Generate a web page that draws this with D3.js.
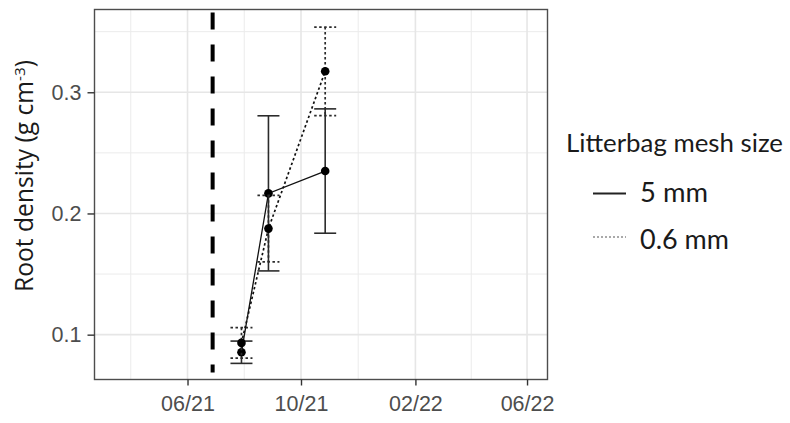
<!DOCTYPE html>
<html>
<head>
<meta charset="utf-8">
<script src="https://cdn.jsdelivr.net/npm/d3@7"></script>
<style>
  html, body { margin: 0; padding: 0; background: #fff; }
  svg { display: block; }
</style>
</head>
<body>
<svg id="chart" width="790" height="423"></svg>
<script>
// ---- data ----
const sampleDates = ["2021-07-29", "2021-08-27", "2021-10-27"];
const mesh5Mean  = [0.0855, 0.2166, 0.2350];
const mesh5Err   = [0.0092, 0.0640, 0.0513];
const mesh06Mean = [0.0932, 0.1875, 0.3173];
const mesh06Err  = [0.0126, 0.0275, 0.0365];
const eventDate  = "2021-06-28";
const xTickLabels = ["06/21", "10/21", "02/22", "06/22"];
const xTickDates  = ["2021-06-01", "2021-10-01", "2022-02-01", "2022-06-01"];
const yTicks = [0.1, 0.2, 0.3];
const yMinor = [0.15, 0.25, 0.35];
const legendTitle = "Litterbag mesh size";
const seriesNames = ["5 mm", "0.6 mm"];
const xDomain = ["2021-02-21", "2022-06-23"];
const yDomain = [0.063, 0.3683];

const parse = d3.timeParse("%Y-%m-%d");
const svg = d3.select("#chart");

const panel = { left: 94.5, right: 547.5, top: 9.5, bottom: 379.5 };

const x = d3.scaleTime().domain(xDomain.map(parse)).range([panel.left, panel.right]);
const y = d3.scaleLinear().domain(yDomain).range([panel.bottom, panel.top]);

// grid
const xMajor = xTickDates.map(parse);
const xMinor = [];
xMinor.push(new Date(xMajor[0].getTime() - (xMajor[1] - xMajor[0]) / 2));
for (let i = 0; i < xMajor.length - 1; i++) {
  xMinor.push(new Date((xMajor[i].getTime() + xMajor[i + 1].getTime()) / 2));
}
const g = svg.append("g");
g.selectAll(".vminor").data(xMinor).join("line")
  .attr("x1", d => x(d)).attr("x2", d => x(d))
  .attr("y1", panel.top).attr("y2", panel.bottom)
  .attr("stroke", "#ebebeb").attr("stroke-width", 1);
g.selectAll(".hminor").data(yMinor).join("line")
  .attr("y1", d => y(d)).attr("y2", d => y(d))
  .attr("x1", panel.left).attr("x2", panel.right)
  .attr("stroke", "#ebebeb").attr("stroke-width", 1);
g.selectAll(".vmajor").data(xMajor).join("line")
  .attr("x1", d => x(d)).attr("x2", d => x(d))
  .attr("y1", panel.top).attr("y2", panel.bottom)
  .attr("stroke", "#e6e6e6").attr("stroke-width", 1.6);
g.selectAll(".hmajor").data(yTicks).join("line")
  .attr("y1", d => y(d)).attr("y2", d => y(d))
  .attr("x1", panel.left).attr("x2", panel.right)
  .attr("stroke", "#e6e6e6").attr("stroke-width", 1.6);

// vertical dashed event line
svg.append("line")
  .attr("x1", x(parse(eventDate))).attr("x2", x(parse(eventDate)))
  .attr("y1", panel.top + 3).attr("y2", panel.bottom - 7)
  .attr("stroke", "#000").attr("stroke-width", 4)
  .attr("stroke-dasharray", "17,15");

// series
const series = [
  { name: seriesNames[0], mean: mesh5Mean, err: mesh5Err, dash: null, width: 1.6, lw: 1.3 },
  { name: seriesNames[1], mean: mesh06Mean, err: mesh06Err, dash: "2.5,2.5", width: 1.7, lw: 1.7 }
];
const capHalf = 11;
series.forEach(s => {
  const pts = sampleDates.map((d, i) => ({ date: parse(d), m: s.mean[i], e: s.err[i] }));
  const sg = svg.append("g");
  // error bars
  pts.forEach(p => {
    const eb = sg.append("g").attr("stroke", "#2b2b2b").attr("stroke-width", s.width).attr("fill", "none");
    if (s.dash) eb.attr("stroke-dasharray", s.dash);
    eb.append("line").attr("x1", x(p.date)).attr("x2", x(p.date)).attr("y1", y(p.m + p.e)).attr("y2", y(p.m - p.e));
    eb.append("line").attr("x1", x(p.date) - capHalf).attr("x2", x(p.date) + capHalf).attr("y1", y(p.m + p.e)).attr("y2", y(p.m + p.e));
    eb.append("line").attr("x1", x(p.date) - capHalf).attr("x2", x(p.date) + capHalf).attr("y1", y(p.m - p.e)).attr("y2", y(p.m - p.e));
  });
  const line = d3.line().x(p => x(p.date)).y(p => y(p.m));
  const path = sg.append("path").datum(pts).attr("d", line)
    .attr("fill", "none").attr("stroke", "#111").attr("stroke-width", s.lw);
  if (s.dash) path.attr("stroke-dasharray", s.dash);
  sg.selectAll("circle").data(pts).join("circle")
    .attr("cx", p => x(p.date)).attr("cy", p => y(p.m)).attr("r", 4.3).attr("fill", "#000");
});

// panel border
svg.append("rect")
  .attr("x", panel.left).attr("y", panel.top)
  .attr("width", panel.right - panel.left).attr("height", panel.bottom - panel.top)
  .attr("fill", "none").attr("stroke", "#4d4d4d").attr("stroke-width", 1.4);

// axes
const xAxis = d3.axisBottom(x).tickValues(xMajor)
  .tickFormat((d, i) => xTickLabels[i]).tickSizeOuter(0).tickSize(6).tickPadding(10);
const xg = svg.append("g").attr("transform", `translate(0,${panel.bottom})`).call(xAxis);
xg.select(".domain").remove();
xg.selectAll(".tick line").attr("stroke", "#333").attr("stroke-width", 1.4);
xg.selectAll(".tick text").attr("fill", "#4d4d4d")
  .style("font-family", "'Liberation Sans', Arial, sans-serif").style("font-size", "21.5px");

const yAxis = d3.axisLeft(y).tickValues(yTicks).tickFormat(d3.format(".1f"))
  .tickSizeOuter(0).tickSize(7).tickPadding(6);
const yg = svg.append("g").attr("transform", `translate(${panel.left},0)`).call(yAxis);
yg.select(".domain").remove();
yg.selectAll(".tick line").attr("stroke", "#333").attr("stroke-width", 1.4);
yg.selectAll(".tick text").attr("fill", "#4d4d4d")
  .style("font-family", "'Liberation Sans', Arial, sans-serif").style("font-size", "21.5px");

// fit helper
function fitWidth(sel, target) {
  const w = sel.node().getComputedTextLength();
  const fs = parseFloat(sel.style("font-size"));
  sel.style("font-size", (fs * target / w) + "px");
}

// y title
const yt = svg.append("text")
  .attr("transform", "translate(33,176) rotate(-90)")
  .attr("text-anchor", "middle")
  .attr("fill", "#1a1a1a")
  .style("font-family", "'Open Sans', sans-serif").style("font-size", "20px");
yt.append("tspan").text("Root density (g cm");
yt.append("tspan").attr("dy", -8).style("font-size", "0.62em").text("-3");
yt.append("tspan").attr("dy", 8).text(")");
fitWidth(yt, 232);

// legend
const lg = svg.append("g");
const lt = lg.append("text").attr("x", 566).attr("y", 152).text(legendTitle)
  .attr("fill", "#1a1a1a").style("font-family", "Lato, sans-serif").style("font-size", "24px");
fitWidth(lt, 217);
const keyY = [193.5, 237];
const textY = [202, 248.5];
const keyW = [68, 89];
series.forEach((s, i) => {
  const kl = lg.append("line").attr("x1", 593).attr("x2", 626).attr("y1", keyY[i]).attr("y2", keyY[i])
    .attr("stroke", i === 0 ? "#222" : "#555").attr("stroke-width", i === 0 ? 1.8 : 1.2);
  if (s.dash) kl.attr("stroke-dasharray", "2,2");
  const t = lg.append("text").attr("x", 640).attr("y", textY[i]).text(s.name)
    .attr("fill", "#1a1a1a").style("font-family", "Lato, sans-serif").style("font-size", "24px");
  fitWidth(t, keyW[i]);
});
</script>
</body>
</html>
